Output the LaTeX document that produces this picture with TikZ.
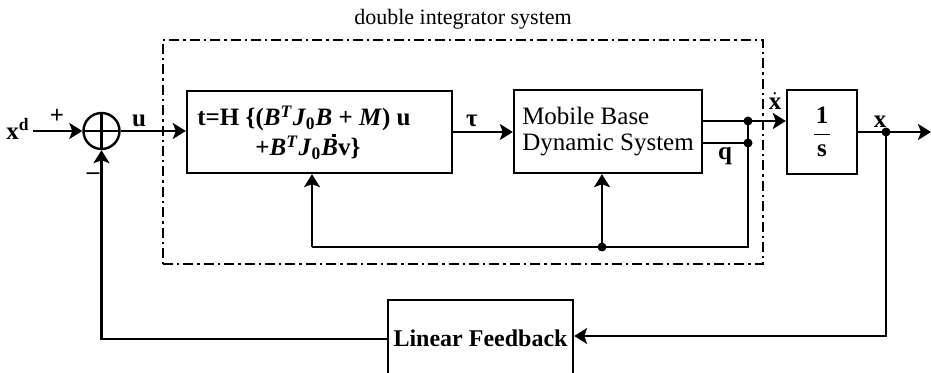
\documentclass[tikz,border=0pt]{standalone}
\usepackage{fontspec}
\setmainfont{Liberation Serif}
\usetikzlibrary{arrows.meta}
% italic B with an over-dot (a small square rule)
\newcommand\dotBitalic{\makebox[0pt][l]{\hspace{0.43em}\smash{\raisebox{0.76em}{\rule{1.7pt}{1.7pt}}}}\textit{B}}
\begin{document}
\begin{tikzpicture}[x=0.5pt,y=-0.5pt,
  font=\fontsize{12.5}{13}\selectfont,
  wire/.style={line width=1.1pt},
  sig/.style={wire,-{Stealth[length=6.5pt,width=8pt,inset=1.5pt]}},
  blk/.style={draw,line width=1.2pt,rectangle,inner sep=0pt},
  jdot/.style={circle,fill,inner sep=0pt,minimum size=4.5pt},
  lab/.style={font=\fontsize{12.5}{13}\selectfont\bfseries,inner sep=0pt},
  frame/.style={draw,line width=1pt,dash pattern=on 5pt off 2pt on 1.2pt off 2pt,
    inner sep=0pt}]
\useasboundingbox (0,0) rectangle (931,373);
\clip (0,0) rectangle (931,373);

% summing junction
\node[circle,draw,line width=1.2pt,minimum size=18pt,inner sep=0pt,
  path picture={\draw[line width=1.1pt]
    (path picture bounding box.north) -- (path picture bounding box.south)
    (path picture bounding box.west) -- (path picture bounding box.east);}]
  (sum) at (101.5,131) {};

% double integrator frame and its title
\node[frame,minimum width=300pt,minimum height=112pt] (dis) at (463,152) {};
\node[font=\fontsize{11}{13}\selectfont] (title) at (463,19) {double integrator system};

% blocks
\node[blk,minimum width=132.5pt,minimum height=41pt] (b1) at (319.5,132) {};
\node[lab,anchor=base west] (b1a) at (197,126)
  {t=H \{(\textit{B}\textsuperscript{\textit{T}}\textit{J}\smash{\textsubscript{0}}\textit{B} + \textit{M}) u};
\node[lab,anchor=base west] (b1b) at (255,156)
  {+\textit{B}\smash{\textsuperscript{\textit{T}}}\textit{J}\textsubscript{0}\dotBitalic v\}};

\node[blk,minimum width=94pt,minimum height=41.5pt,align=left] (b2) at (608,131.5)
  {Mobile Base\\Dynamic System};

\node[blk,minimum width=35pt,minimum height=42pt] (b3) at (822,132)
  {$\displaystyle\frac{\hbox to 8pt{\hss\bfseries 1\hss}}{\mbox{\bfseries s}}$};

\node[blk,minimum width=92.5pt,minimum height=38pt,
  font=\fontsize{12}{13}\selectfont\bfseries] (lf) at (480.5,338)
  {Linear Feedback};

% signal labels
\node[lab,anchor=east] (xd) at (30,129) {x\textsuperscript{d}};
\node[lab] (plus) at (57,116) {+};
\node[lab] (minus) at (93,176) {\textendash};
\node[lab] (ulab) at (139,121) {u};
\node[lab] (taulab) at (472,121) {τ};
\node[lab] (xdotlab) at (775,101) {$\dot{\mbox{\bfseries x}}$};
\node[lab] (qlab) at (725,156) {q};
\node[lab] (xlab) at (880,122) {x};

% branch points
\coordinate (xin) at (33,131);
\coordinate (jx) at (748,121);
\coordinate (jq) at (748,143);
\coordinate (jb) at (748,247);
\coordinate (jm) at (602,247);
\coordinate (jl) at (312,247);
\coordinate (jo) at (886,132);
\coordinate (out) at (931,132);
\coordinate (fr) at (886,336);
\coordinate (fl) at (101.5,339);

% forward path
\draw[sig] (xin) -- (sum.west);
\draw[sig] (sum.east) -- (sum.east -| b1.west);
\draw[sig] (b1.east) -- (b1.east -| b2.west);
\draw[sig] (b2.east |- jx) -- (b3.west |- jx);
\draw[wire] (b2.east |- jq) -- (jq);
\draw[sig] (b3.east |- jo) -- (out);

% inner feedback
\draw[wire] (jx) -- (jb) -- (jl);
\draw[sig] (jl) -- (jl |- b1.south);
\draw[sig] (jm) -- (jm |- b2.south);

% outer feedback
\draw[sig] (jo) -- (fr) -- (fr -| lf.east);
\draw[sig] (lf.west |- fl) -- (fl) -- (sum.south);

% junction dots
\node[jdot] at (jx) {};
\node[jdot] at (jq) {};
\node[jdot] at (jm) {};
\node[jdot] at (jo) {};
\end{tikzpicture}
\end{document}
